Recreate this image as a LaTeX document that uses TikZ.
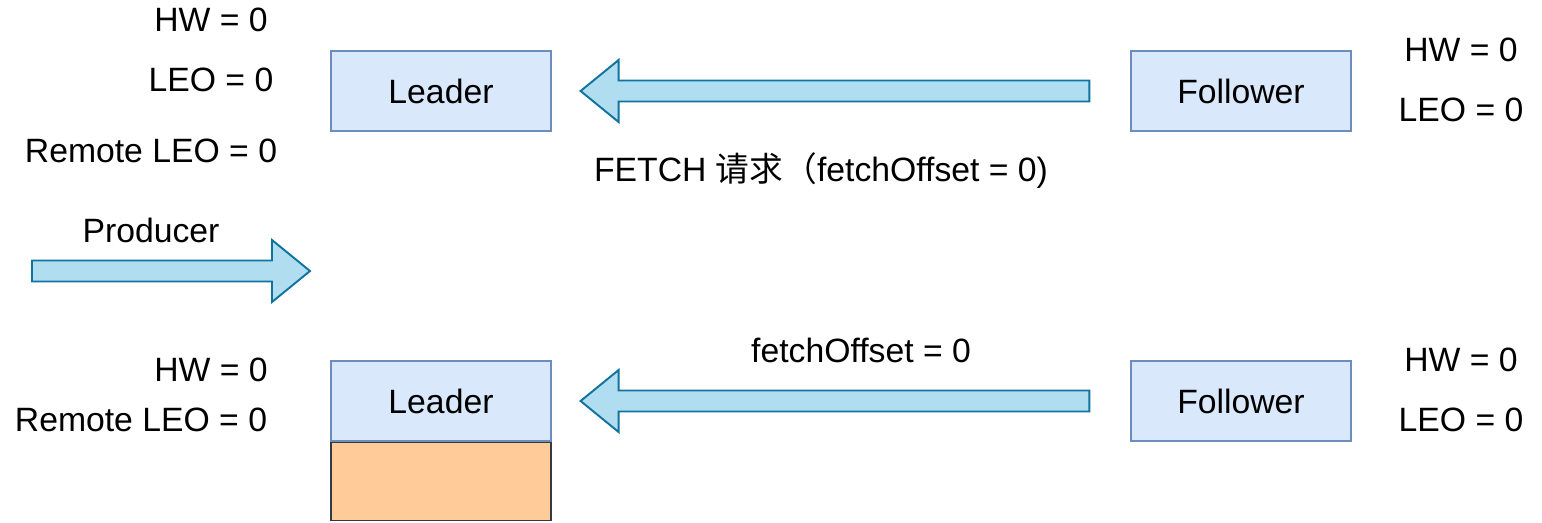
\documentclass[tikz,border=0pt]{standalone}
\usepackage{fontspec}
\setmainfont{Liberation Sans}
\newfontfamily\cjk{Noto Sans CJK SC}
\usepackage{tikz}
\usetikzlibrary{calc, positioning}

\definecolor{boxfill}{HTML}{DAE8FC}
\definecolor{boxline}{HTML}{6C8EBF}
\definecolor{arrfill}{HTML}{B1DDF0}
\definecolor{arrline}{HTML}{10739E}
\definecolor{logfill}{HTML}{FFCC99}
\definecolor{logline}{HTML}{36393D}

% fat arrow from #1 to tip #2, #3 = -1 for rightwards, 1 for leftwards
\newcommand{\fatarrow}[3]{%
  \draw[fatarr] ($(#1)+(0,-10.5)$) -- ($(#2)+(#3*38,-10.5)$) -- ($(#2)+(#3*38,-31)$) -- (#2)
    -- ($(#2)+(#3*38,31)$) -- ($(#2)+(#3*38,10.5)$) -- ($(#1)+(0,10.5)$) -- cycle;}

\begin{document}
\begin{tikzpicture}[x=0.02cm, y=-0.02cm,
    every node/.style={font=\fontsize{19.2}{23}\selectfont, inner sep=0pt},
    broker/.style={rectangle, draw=boxline, fill=boxfill, line width=0.7pt, minimum width=4.4cm, minimum height=1.6cm},
    logbox/.style={rectangle, draw=logline, fill=logfill, line width=0.7pt, minimum width=4.4cm, minimum height=1.57cm},
    fatarr/.style={draw=arrline, fill=arrfill, line width=1.1pt, line join=miter}]
  \useasboundingbox (0,0) rectangle (1542,522);

  % top: fetch request
  \node[broker] (L1) at (441,91) {Leader};
  \node[broker] (F1) at (1241,91) {Follower};
  \node (l1hw) at (211,20) {HW = 0};
  \node (l1leo) at (211,80) {LEO = 0};
  \node (l1rleo) at (151,151) {Remote LEO = 0};
  \node (f1hw) at (1461,50) {HW = 0};
  \node (f1leo) at (1461,110) {LEO = 0};
  \coordinate (a1s) at ($(F1.west)+(-41,0)$);
  \coordinate (a1e) at ($(L1.east)+(29,0)$);
  \fatarrow{a1s}{a1e}{1}
  \node (req) at (821,171) {FETCH {\cjk 请求（}fetchOffset = 0)};

  % producer
  \node (prod) at (151,230) {Producer};
  \coordinate (ps) at (32,271);
  \coordinate (pe) at (310,271);
  \fatarrow{ps}{pe}{-1}

  % bottom: after write
  \node[broker] (L2) at (441,401) {Leader};
  \node[logbox, below=0pt of L2] (log) {};
  \node[broker] (F2) at (1241,401) {Follower};
  \node (l2hw) at (211,370) {HW = 0};
  \node (l2rleo) at (141,420) {Remote LEO = 0};
  \node (f2hw) at (1461,360) {HW = 0};
  \node (f2leo) at (1461,420) {LEO = 0};
  \coordinate (a2s) at ($(F2.west)+(-41,0)$);
  \coordinate (a2e) at ($(L2.east)+(29,0)$);
  \fatarrow{a2s}{a2e}{1}
  \node (off) at (861,350) {fetchOffset = 0};
\end{tikzpicture}
\end{document}
